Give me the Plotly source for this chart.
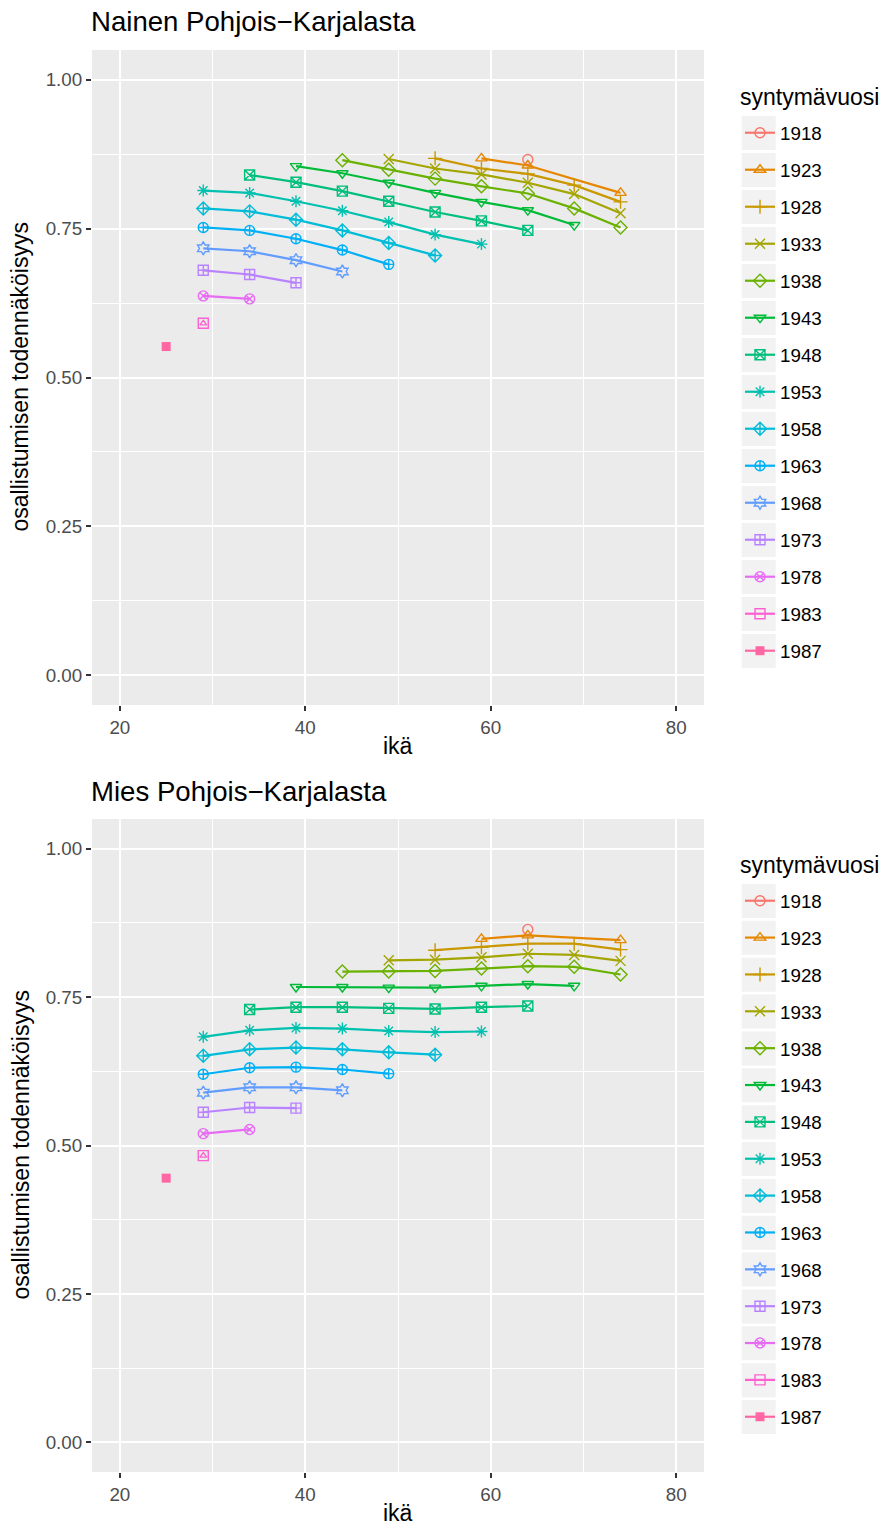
import plotly.graph_objects as go

# Birth cohorts and the ages at which each cohort was surveyed
cohorts = [1918, 1923, 1928, 1933, 1938, 1943, 1948, 1953, 1958, 1963,
           1968, 1973, 1978, 1983, 1987]

ages = [
    [64],
    [59, 64, 74],
    [54, 59, 64, 69, 74],
    [49, 54, 59, 64, 69, 74],
    [44, 49, 54, 59, 64, 69, 74],
    [39, 44, 49, 54, 59, 64, 69],
    [34, 39, 44, 49, 54, 59, 64],
    [29, 34, 39, 44, 49, 54, 59],
    [29, 34, 39, 44, 49, 54],
    [29, 34, 39, 44, 49],
    [29, 34, 39, 44],
    [29, 34, 39],
    [29, 34],
    [29],
    [25],
]

# Participation probability, women
women = [
    [0.866],
    [0.868, 0.856, 0.810],
    [0.868, 0.851, 0.842, 0.823, 0.795],
    [0.867, 0.851, 0.841, 0.827, 0.808, 0.776],
    [0.865, 0.849, 0.834, 0.821, 0.809, 0.784, 0.752],
    [0.855, 0.843, 0.827, 0.810, 0.795, 0.781, 0.756],
    [0.840, 0.828, 0.813, 0.796, 0.778, 0.763, 0.747],
    [0.814, 0.810, 0.796, 0.780, 0.761, 0.740, 0.724],
    [0.784, 0.779, 0.765, 0.747, 0.726, 0.705],
    [0.752, 0.747, 0.733, 0.714, 0.690],
    [0.717, 0.712, 0.697, 0.678],
    [0.680, 0.673, 0.659],
    [0.637, 0.632],
    [0.591],
    [0.552],
]

# Participation probability, men
men = [
    [0.864],
    [0.848, 0.854, 0.846],
    [0.829, 0.834, 0.840, 0.840, 0.830],
    [0.812, 0.813, 0.817, 0.823, 0.821, 0.811],
    [0.793, 0.793, 0.794, 0.798, 0.802, 0.801, 0.788],
    [0.767, 0.767, 0.766, 0.766, 0.769, 0.772, 0.769],
    [0.729, 0.733, 0.733, 0.731, 0.730, 0.733, 0.735],
    [0.683, 0.694, 0.698, 0.697, 0.693, 0.691, 0.692],
    [0.651, 0.662, 0.665, 0.662, 0.657, 0.653],
    [0.620, 0.631, 0.632, 0.628, 0.621],
    [0.589, 0.598, 0.598, 0.593],
    [0.556, 0.564, 0.563],
    [0.520, 0.527],
    [0.483],
    [0.445],
]

panel_titles = ["Nainen Pohjois\u2212Karjalasta", "Mies Pohjois\u2212Karjalasta"]
x_ticks = [20, 40, 60, 80]
y_ticks = [0.0, 0.25, 0.5, 0.75, 1.0]

colors = ["#F8766D", "#E58700", "#C99800", "#A3A500", "#6BB100", "#00BA38",
          "#00BF7D", "#00C0AF", "#00BCD8", "#00B0F6", "#619CFF", "#B983FF",
          "#E76BF3", "#FD61D1", "#FF67A4"]
symbols = ["circle-open", "triangle-up-open", "cross-thin-open", "x-thin-open",
           "diamond-open", "triangle-down-open", "square-x-open",
           "asterisk-open", "diamond-cross-open", "circle-cross-open",
           "hexagram-open", "square-cross-open", "circle-x-open",
           "square-open", "square"]

W, H = 885, 1531
FONT = "Liberation Sans, Arial, sans-serif"
LEGEND_FONT = 18.8
ITEM_H = LEGEND_FONT * 1.3 + 3  # height plotly gives one legend row

# panel geometry in pixels: (left, right, top, bottom)
panels = [(92, 704, 50, 705), (92, 704, 819, 1472)]
legend_title_y = [97, 865]
key_first = [133, 901]
key_step = [37.0, 36.86]


def px_x(p):
    return p / W


def px_y(p):
    return 1 - p / H


fig = go.Figure()
datasets = [women, men]

for p, data in enumerate(datasets):
    xa = "x" if p == 0 else "x2"
    ya = "y" if p == 0 else "y2"
    leg = "legend" if p == 0 else "legend2"
    for i, c in enumerate(cohorts):
        filled = symbols[i] == "square"
        fig.add_trace(go.Scatter(
            x=ages[i], y=data[i], mode="lines+markers", name=str(c),
            legend=leg, legendgroup=f"{p}-{c}", xaxis=xa, yaxis=ya,
            line=dict(color=colors[i], width=2.2),
            marker=dict(symbol=symbols[i], size=9 if filled else 10,
                        color=colors[i],
                        line=dict(color=colors[i], width=0 if filled else 1.4)),
        ))
        if symbols[i] == "square-open":
            # inner triangle of the square-with-triangle glyph
            fig.add_trace(go.Scatter(
                x=ages[i], y=data[i], mode="markers", showlegend=False,
                legend=leg, legendgroup=f"{p}-{c}", xaxis=xa, yaxis=ya,
                hoverinfo="skip",
                marker=dict(symbol="triangle-up-open", size=6, color=colors[i],
                            line=dict(color=colors[i], width=1.3)),
            ))

axis_common = dict(
    showgrid=True, gridcolor="white", gridwidth=2.1, zeroline=False,
    showline=False, ticks="outside", ticklen=5, tickwidth=2,
    tickcolor="#333333", tickfont=dict(size=18.8, color="#4D4D4D", family=FONT),
)

layout = dict(
    width=W, height=H, margin=dict(l=0, r=0, t=0, b=0),
    paper_bgcolor="white", plot_bgcolor="#EBEBEB",
    font=dict(family=FONT, color="black"),
    showlegend=True, shapes=[], annotations=[],
)

for p, (l, r, t, b) in enumerate(panels):
    sfx = "" if p == 0 else "2"
    layout["xaxis" + sfx] = dict(
        axis_common, domain=[px_x(l), px_x(r)], range=[17, 83],
        tickvals=x_ticks, anchor="y" + sfx,
        minor=dict(dtick=10, tick0=0, showgrid=True, gridcolor="white",
                   gridwidth=1, ticks=""),
    )
    layout["yaxis" + sfx] = dict(
        axis_common, domain=[px_y(b), px_y(t)], range=[-0.05, 1.05],
        tickvals=y_ticks, tickformat=".2f", anchor="x" + sfx,
        minor=dict(dtick=0.125, tick0=0, showgrid=True, gridcolor="white",
                   gridwidth=1, ticks=""),
    )
    # panel title
    layout["annotations"].append(dict(
        text=panel_titles[p], x=px_x(l - 3), y=px_y(t - 28), xref="paper",
        yref="paper", xanchor="left", yanchor="middle", showarrow=False,
        font=dict(size=27.6, color="black", family=FONT),
    ))
    # axis titles
    layout["annotations"].append(dict(
        text="ik\u00e4", x=px_x((l + r) / 2), y=px_y(b + 41), xref="paper",
        yref="paper", xanchor="center", yanchor="middle", showarrow=False,
        font=dict(size=23, color="black", family=FONT),
    ))
    layout["annotations"].append(dict(
        text="osallistumisen todenn\u00e4k\u00f6isyys", x=px_x(20),
        y=px_y((t + b) / 2), xref="paper", yref="paper", xanchor="center",
        yanchor="middle", textangle=-90, showarrow=False,
        font=dict(size=23, color="black", family=FONT),
    ))
    # legend title
    layout["annotations"].append(dict(
        text="syntym\u00e4vuosi", x=px_x(738), y=px_y(legend_title_y[p]),
        xref="paper", yref="paper", xanchor="left", yanchor="middle",
        showarrow=False, font=dict(size=23, color="black", family=FONT),
    ))
    # legend
    layout["legend" + sfx] = dict(
        x=px_x(740), xanchor="left", y=px_y(key_first[p] - 19), yanchor="top",
        font=dict(size=LEGEND_FONT, family=FONT, color="black"),
        tracegroupgap=key_step[p] - ITEM_H, traceorder="grouped",
        bgcolor="rgba(0,0,0,0)",
    )
    # grey legend key backgrounds
    for i in range(len(cohorts)):
        yc = key_first[p] + key_step[p] * i
        layout["shapes"].append(dict(
            type="rect", xref="paper", yref="paper", layer="below",
            x0=px_x(741.7), x1=px_x(775.7), y0=px_y(yc + 17), y1=px_y(yc - 17),
            fillcolor="#F2F2F2", line=dict(width=0),
        ))

fig.update_layout(**layout)
fig.write_html("out.html")
